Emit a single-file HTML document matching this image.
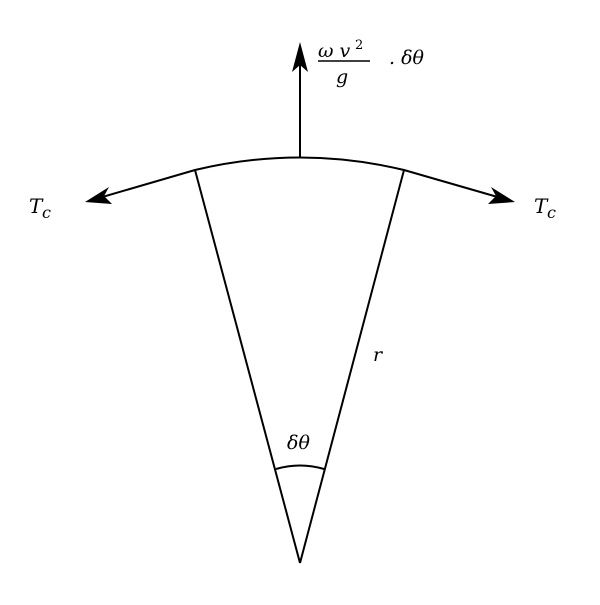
<!DOCTYPE html>
<html><head><style>
body{margin:0;background:#fff}
svg text{font-family:"DejaVu Serif","Liberation Serif",serif;font-style:italic;fill:#000}
</style></head><body>
<svg width="600" height="600" viewBox="0 0 600 600" xmlns="http://www.w3.org/2000/svg">
<g fill="none" stroke="#000" stroke-width="2">
<path d="M92 200 L195 170 Q300 145 404 170 L508 200"/>
<line x1="300" y1="157" x2="300" y2="50"/>
<line x1="300" y1="563" x2="195" y2="170"/>
<line x1="300" y1="563" x2="404" y2="170"/>
<path d="M276 469 Q300 462 324 469"/>
</g>
<g fill="#000">
<path d="M300 42 L308 72 L300 65 L292 72 Z"/>
<path d="M85 202 L109 187 L104 196 L112 204 Z"/>
<path d="M515 202 L488 204 L496 196 L491 187 Z"/>
</g>
<text x="318" y="57" font-size="19">ω v</text>
<text x="355" y="49" font-size="13" style="font-style:normal">2</text>
<line x1="318" y1="61" x2="370" y2="61" stroke="#000" stroke-width="1.6"/>
<text x="336" y="83" font-size="19">g</text>
<text x="389" y="64" font-size="19">. δθ</text>
<text x="29" y="213" font-size="20">T</text>
<text x="42" y="218" font-size="16">c</text>
<text x="534" y="213" font-size="20">T</text>
<text x="547" y="218" font-size="16">c</text>
<text x="373" y="361" font-size="19">r</text>
<text x="287" y="449" font-size="19">δθ</text>
</svg>
</body></html>
